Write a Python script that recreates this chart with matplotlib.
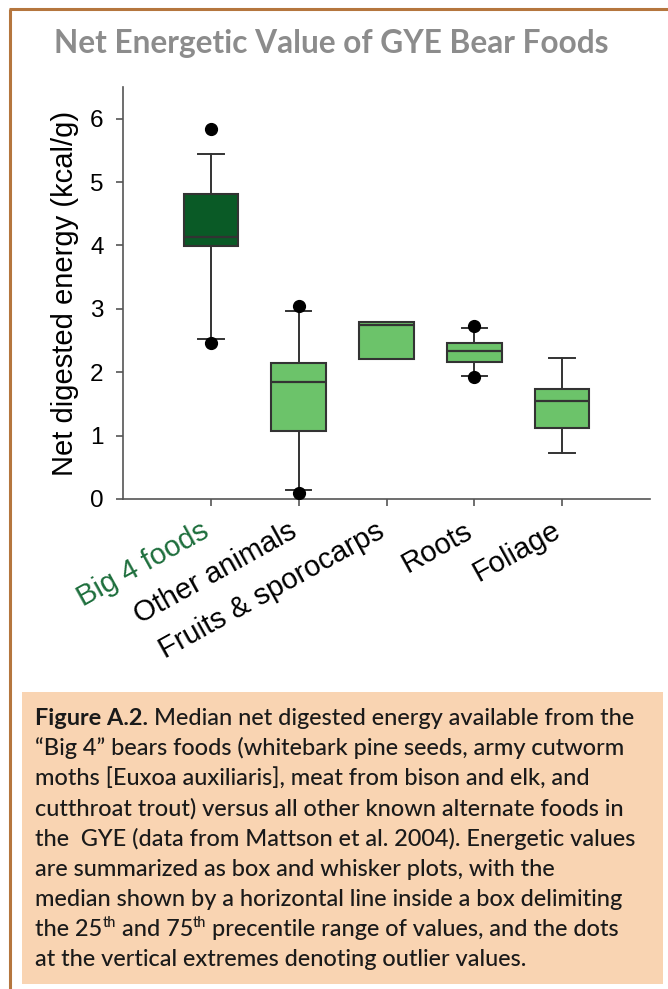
import matplotlib
matplotlib.use("Agg")
import matplotlib.pyplot as plt
from matplotlib.lines import Line2D
from matplotlib.patches import Rectangle

# ---- data -------------------------------------------------------------
categories = ["Big 4 foods", "Other animals", "Fruits & sporocarps", "Roots", "Foliage"]
q1 = [3.99, 1.07, 2.21, 2.16, 1.12]
median = [4.13, 1.85, 2.74, 2.34, 1.55]
q3 = [4.81, 2.15, 2.80, 2.46, 1.73]
whisker_low = [2.53, 0.14, 2.21, 1.94, 0.72]
whisker_high = [5.44, 2.96, 2.80, 2.70, 2.22]
outliers = [[2.46, 5.84], [0.10, 3.04], [], [1.92, 2.73], []]
y_ticks = [0, 1, 2, 3, 4, 5, 6]

title_text = "Net Energetic Value of GYE Bear Foods"
caption_lines = [
    [("Figure A.2.", "bold", False), ("Median net digested energy available from the", "medium", False)],
    [("\u201cBig 4\u201d bears foods (whitebark pine seeds, army cutworm", "medium", False)],
    [("moths [Euxoa auxiliaris], meat from bison and elk, and", "medium", False)],
    [("cutthroat trout) versus all other known alternate foods in", "medium", False)],
    [("the  GYE (data from Mattson et al. 2004). Energetic values", "medium", False)],
    [("are summarized as box and whisker plots, with the", "medium", False)],
    [("median shown by a horizontal line inside a box delimiting", "medium", False)],
    [("the 25", "medium", False), ("th", "medium", True), ("and 75", "medium", False),
     ("th", "medium", True), ("precentile range of values, and the dots", "medium", False)],
    [("at the vertical extremes denoting outlier values.", "medium", False)],
]

# ---- figure in pixel units -------------------------------------------
W, H = 668, 989
fig = plt.figure(figsize=(W / 100, H / 100), dpi=100)
fig.patch.set_facecolor("white")


def fx(px):
    return px / W


def fy(py):
    return 1 - py / H


renderer = fig.canvas.get_renderer()

# outer frame (top and left rules)
frame_color = "#b5763e"
fig.add_artist(Line2D([fx(10), fx(10)], [fy(9), fy(H + 5)], transform=fig.transFigure,
                      color=frame_color, lw=2.2, solid_capstyle="butt"))
fig.add_artist(Line2D([fx(9), fx(W + 5)], [fy(9), fy(9)], transform=fig.transFigure,
                      color=frame_color, lw=2.2, solid_capstyle="butt"))

# title, fitted to its measured width
title_font = "Lato"
t = fig.text(0, 0, title_text, fontsize=20, fontweight="bold", family=title_font)
tw = t.get_window_extent(renderer).width
t.remove()
title_size = 20 * 557 / tw
fig.text(fx(331.5), fy(53), title_text, fontsize=title_size, fontweight="bold",
         family=title_font, color="#8c8c8c", ha="center", va="baseline")

# ---- box plot --------------------------------------------------------
chart_font = "Liberation Sans"
ax = fig.add_axes([fx(123), fy(499), fx(650) - fx(123), (499 - 87) / H])

stats = []
for i, name in enumerate(categories):
    stats.append(dict(label=name, med=median[i], q1=q1[i], q3=q3[i],
                      whislo=whisker_low[i], whishi=whisker_high[i],
                      fliers=outliers[i]))

edge = "#333333"
bp = ax.bxp(stats, positions=range(len(categories)), widths=0.62, capwidths=0.29,
            patch_artist=True,
            boxprops=dict(edgecolor=edge, linewidth=1.5),
            medianprops=dict(color=edge, linewidth=1.6),
            whiskerprops=dict(color=edge, linewidth=1.4),
            capprops=dict(color=edge, linewidth=1.4),
            flierprops=dict(marker="o", markerfacecolor="black", markeredgecolor="black",
                            markersize=8.5, linestyle="none"))

fills = ["#0a5a26", "#6cc36a", "#6cc36a", "#6cc36a", "#6cc36a"]
for patch, c in zip(bp["boxes"], fills):
    patch.set_facecolor(c)
for fl in bp["fliers"]:
    fl.set_zorder(4)

ax.set_xlim(-1, 5)
ax.set_ylim(0, 6.5)
for side in ("top", "right"):
    ax.spines[side].set_visible(False)
for side in ("left", "bottom"):
    ax.spines[side].set_color("#555555")
    ax.spines[side].set_linewidth(1.2)

ax.set_yticks(y_ticks)
ax.set_yticklabels([str(v) for v in y_ticks], family=chart_font, fontsize=17.5)
ax.tick_params(axis="y", direction="out", length=5, width=1.2, color="#555555", pad=9)

ax.set_xticks(range(len(categories)))
ax.set_xticklabels(categories, family=chart_font, fontsize=21, rotation=29,
                   ha="right", va="baseline", rotation_mode="anchor")
ax.tick_params(axis="x", direction="out", length=5, width=1.2, color="#555555", pad=21.5)
ax.get_xticklabels()[0].set_color("#1d6e3c")

ax.set_ylabel("Net digested energy (kcal/g)", family=chart_font, fontsize=21, labelpad=8)

# ---- caption box -----------------------------------------------------
fig.add_artist(Rectangle((fx(22), fy(984)), fx(663) - fx(22), (984 - 692) / H,
                         transform=fig.transFigure, facecolor="#f9d4b2",
                         edgecolor="none", zorder=0))

cap_font = "Lato"


def text_width(s, size, weight):
    tt = fig.text(0, 0, s, fontsize=size, fontweight=weight, family=cap_font)
    w = tt.get_window_extent(renderer).width
    tt.remove()
    return w


# fit the caption size on the first line
base = 14
first = text_width("Figure A.2.", base, "bold") + \
    (text_width("a a", base, "medium") - text_width("aa", base, "medium")) + \
    text_width(caption_lines[0][1][0], base, "medium")
cap_size = base * 603 / first
space_w = text_width("a a", cap_size, "medium") - text_width("aa", cap_size, "medium")

x0 = 35
for k, runs in enumerate(caption_lines):
    base_y = 725 + 30.15 * k
    x = x0
    for j, (s, weight, sup) in enumerate(runs):
        if j > 0 and not sup:
            # a space separates consecutive runs except before a superscript
            x += space_w
        size = cap_size * 0.62 if sup else cap_size
        y = base_y - (cap_size * 1.39 * 0.38 if sup else 0)
        fig.text(fx(x), fy(y), s, fontsize=size, fontweight=weight, family=cap_font,
                 color="#1a1a1a", ha="left", va="baseline")
        x += text_width(s, size, weight)

fig.savefig("out.png", dpi=100)
